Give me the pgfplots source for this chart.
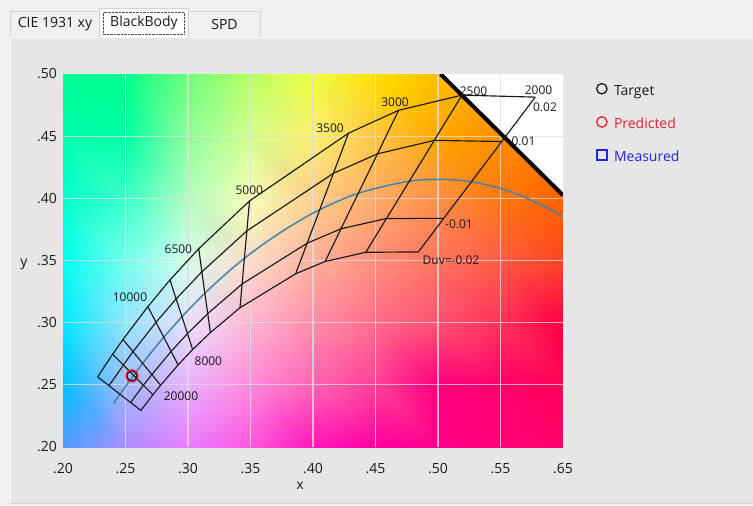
\documentclass[border=0pt]{standalone}
\usepackage{pgfplots}
\pgfplotsset{compat=1.18}
\usepackage{fontspec}
\setmainfont{Open Sans}
\definecolor{winbg}{RGB}{240,240,240}
\definecolor{panelbg}{RGB}{230,230,230}
\definecolor{tabborder}{RGB}{210,210,210}
\definecolor{gridcol}{RGB}{222,222,222}
\definecolor{locuscol}{RGB}{70,130,170}
\definecolor{predred}{RGB}{232,30,50}
\definecolor{measblue}{RGB}{35,35,220}
\definecolor{ink}{RGB}{25,25,25}
\begin{document}
\begin{tikzpicture}
\fill[winbg] (0pt,0pt) rectangle (753pt,-506pt);
\useasboundingbox (0pt,0pt) rectangle (753pt,-506pt);
\fill[panelbg] (10pt,-37pt) rectangle (753pt,-503pt);
\draw[white, line width=1pt] (10.5pt,-503pt) -- (10.5pt,-37.5pt) -- (753pt,-37.5pt);
\draw[tabborder] (10pt,-503.5pt) -- (753pt,-503.5pt);
% tabs
\draw[tabborder, fill=winbg] (10.5pt,-37pt) -- (10.5pt,-11.5pt) -- (99.5pt,-11.5pt) -- (99.5pt,-37pt);
\node[font=\fontsize{14}{16}\selectfont, text=ink] at (55pt,-24pt) {CIE 1931 xy};
\draw[tabborder, fill=white] (99.5pt,-38pt) -- (99.5pt,-8.5pt) -- (188.5pt,-8.5pt) -- (188.5pt,-38pt);
\draw[black!70, densely dotted] (103.5pt,-12.5pt) rectangle (184.5pt,-34.5pt);
\node[font=\fontsize{14}{16}\selectfont, text=ink] at (144pt,-23pt) {BlackBody};
\draw[tabborder, fill=winbg] (188.5pt,-37pt) -- (188.5pt,-11.5pt) -- (260.5pt,-11.5pt) -- (260.5pt,-37pt);
\node[font=\fontsize{14}{16}\selectfont, text=ink] at (224.5pt,-24pt) {SPD};

\begin{axis}[
  at={(63pt,-447pt)}, anchor=south west, scale only axis,
  width=500pt, height=373pt,
  xmin=0.2, xmax=0.6, ymin=0.2, ymax=0.5,
  axis line style={draw=none},
  major tick length=0pt,
  xtick={0.2,0.25,0.3,0.35,0.4,0.45,0.5,0.55,0.6},
  xticklabels={.20,.25,.30,.35,.40,.45,.50,.55,.65},
  ytick={0.2,0.25,0.3,0.35,0.4,0.45,0.5},
  yticklabels={.20,.25,.30,.35,.40,.45,.50},
  ticklabel style={font=\fontsize{14}{16}\selectfont, text=ink},
  xticklabel style={anchor=north, inner sep=0pt, yshift=-16pt},
  yticklabel style={anchor=east, inner sep=0pt, xshift=-6pt},
  xlabel={x}, ylabel={y},
  every axis x label/.style={at={(axis description cs:0.474,0)}, anchor=center, yshift=-39pt, font=\fontsize{14}{16}\selectfont, text=ink},
  every axis y label/.style={at={(axis description cs:0,0.49)}, anchor=center, xshift=-39pt, font=\fontsize{14}{16}\selectfont, text=ink},
  legend style={at={(axis description cs:1.065,0.975)}, anchor=north west, draw=none, fill=none,
    font=\fontsize{14}{16}\selectfont, row sep=18pt, inner sep=0pt,
    nodes={inner sep=0pt, text height=10pt, text depth=3pt}},
  legend cell align=left,
  legend image code/.code={\path (0pt,0pt) (17pt,0pt); \draw[#1] plot coordinates {(5.5pt,3.5pt)};},
]
% background chromaticity colours
\addplot[surf, shader=interp, mesh/color input=explicit, point meta=explicit symbolic, forget plot] table[meta=c] {
x y c
0.20 0.20 rgb255=75,156,255
0.25 0.20 rgb255=170,143,255
0.30 0.20 rgb255=233,125,255
0.35 0.20 rgb255=255,86,224
0.40 0.20 rgb255=255,24,188
0.45 0.20 rgb255=255,0,161
0.50 0.20 rgb255=255,0,139
0.55 0.20 rgb255=255,0,119
0.60 0.20 rgb255=255,0,102

0.20 0.25 rgb255=0,194,255
0.25 0.25 rgb255=160,187,255
0.30 0.25 rgb255=233,177,255
0.35 0.25 rgb255=255,140,218
0.40 0.25 rgb255=255,101,180
0.45 0.25 rgb255=255,65,151
0.50 0.25 rgb255=255,0,127
0.55 0.25 rgb255=255,0,107
0.60 0.25 rgb255=255,0,87

0.20 0.30 rgb255=0,232,255
0.25 0.30 rgb255=145,229,255
0.30 0.30 rgb255=233,225,255
0.35 0.30 rgb255=255,182,211
0.40 0.30 rgb255=255,142,169
0.45 0.30 rgb255=255,110,139
0.50 0.30 rgb255=255,82,113
0.55 0.30 rgb255=255,51,91
0.60 0.30 rgb255=255,0,68

0.20 0.35 rgb255=0,255,238
0.25 0.35 rgb255=114,255,237
0.30 0.35 rgb255=214,255,234
0.35 0.35 rgb255=255,222,201
0.40 0.35 rgb255=255,176,156
0.45 0.35 rgb255=255,143,123
0.50 0.35 rgb255=255,116,95
0.55 0.35 rgb255=255,92,68
0.60 0.35 rgb255=255,69,33

0.20 0.40 rgb255=0,255,204
0.25 0.40 rgb255=59,255,199
0.30 0.40 rgb255=176,255,192
0.35 0.40 rgb255=247,255,183
0.40 0.40 rgb255=255,208,139
0.45 0.40 rgb255=255,171,102
0.50 0.40 rgb255=255,144,68
0.55 0.40 rgb255=255,120,14
0.60 0.40 rgb255=255,100,0

0.20 0.45 rgb255=0,255,175
0.25 0.45 rgb255=0,255,166
0.30 0.45 rgb255=142,255,155
0.35 0.45 rgb255=212,255,141
0.40 0.45 rgb255=255,240,113
0.45 0.45 rgb255=255,198,68
0.50 0.45 rgb255=255,168,0
0.55 0.45 rgb255=255,144,0
0.60 0.45 rgb255=255,125,0

0.20 0.50 rgb255=0,255,147
0.25 0.50 rgb255=0,255,136
0.30 0.50 rgb255=110,255,121
0.35 0.50 rgb255=183,255,99
0.40 0.50 rgb255=238,255,63
0.45 0.50 rgb255=255,225,0
0.50 0.50 rgb255=255,191,0
0.55 0.50 rgb255=255,165,0
0.60 0.50 rgb255=255,140,0
};
% outside the spectral locus
\addplot[fill=white, draw=none, forget plot] coordinates {(0.502,0.5) (0.61,0.5) (0.61,0.3925) (0.6,0.4025)} -- cycle;

% grid lines
\begin{scope}[gridcol, opacity=0.75, line width=1.3pt]
\draw (axis cs:0.25,0.2) -- (axis cs:0.25,0.5);
\draw (axis cs:0.30,0.2) -- (axis cs:0.30,0.5);
\draw (axis cs:0.35,0.2) -- (axis cs:0.35,0.5);
\draw (axis cs:0.40,0.2) -- (axis cs:0.40,0.5);
\draw (axis cs:0.45,0.2) -- (axis cs:0.45,0.5);
\draw (axis cs:0.50,0.2) -- (axis cs:0.50,0.5);
\draw (axis cs:0.55,0.2) -- (axis cs:0.55,0.5);
\draw (axis cs:0.2,0.25) -- (axis cs:0.6,0.25);
\draw (axis cs:0.2,0.30) -- (axis cs:0.6,0.30);
\draw (axis cs:0.2,0.35) -- (axis cs:0.6,0.35);
\draw (axis cs:0.2,0.40) -- (axis cs:0.6,0.40);
\draw (axis cs:0.2,0.45) -- (axis cs:0.6,0.45);
\end{scope}

% spectral locus
\addplot[black, line width=4pt, forget plot] coordinates {(0.502,0.5) (0.6,0.4025)};

% Planckian locus (Duv = 0)
\addplot[locuscol, line width=1.5pt, smooth, forget plot] coordinates {
(0.2404,0.2351) (0.2456,0.2424) (0.2525,0.2523) (0.2565,0.2576) (0.2637,0.2673)
(0.2718,0.2776) (0.2807,0.2883) (0.2952,0.3048) (0.3135,0.3237) (0.3323,0.3410)
(0.3450,0.3516) (0.3607,0.3635) (0.3805,0.3767) (0.4053,0.3909) (0.4366,0.4042)
(0.4765,0.4137) (0.5054,0.4152) (0.5269,0.4133) (0.5496,0.4081) (0.5646,0.4029)
(0.5857,0.3931) (0.6000,0.3855)};

% Duv lines
\addplot[ink, line width=1.15pt, forget plot] coordinates {
(0.2277,0.2564) (0.2397,0.2746) (0.2480,0.2865) (0.2679,0.3129) (0.2856,0.3344) (0.3086,0.3595)
(0.3492,0.3979) (0.4284,0.4524) (0.4685,0.4708) (0.5192,0.4830) (0.5778,0.4814)};
\addplot[ink, line width=1.15pt, forget plot] coordinates {
(0.2368,0.2493) (0.2483,0.2659) (0.2560,0.2767) (0.2744,0.3003) (0.2905,0.3191) (0.3111,0.3409)
(0.3471,0.3738) (0.4163,0.4201) (0.4516,0.4358) (0.4970,0.4466) (0.5510,0.4457)};
\addplot[ink, line width=1.15pt, forget plot] coordinates {
(0.2541,0.2358) (0.2643,0.2497) (0.2711,0.2583) (0.2865,0.2769) (0.2996,0.2912) (0.3158,0.3073)
(0.3433,0.3311) (0.3953,0.3639) (0.4224,0.3755) (0.4588,0.3838) (0.5046,0.3839)};
\addplot[ink, line width=1.15pt, forget plot] coordinates {
(0.2623,0.2294) (0.2719,0.2420) (0.2781,0.2497) (0.2921,0.2660) (0.3037,0.2784) (0.3179,0.2920)
(0.3416,0.3120) (0.3861,0.3393) (0.4097,0.3492) (0.4422,0.3566) (0.4843,0.3569)};

% isotherms (CCT lines)
\addplot[ink, line width=1.15pt, forget plot] coordinates {(0.2277,0.2564) (0.2368,0.2493) (0.2456,0.2424) (0.2541,0.2358) (0.2623,0.2294)};
\addplot[ink, line width=1.15pt, forget plot] coordinates {(0.2397,0.2746) (0.2483,0.2659) (0.2565,0.2576) (0.2643,0.2497) (0.2719,0.2420)};
\addplot[ink, line width=1.15pt, forget plot] coordinates {(0.2480,0.2865) (0.2560,0.2767) (0.2637,0.2673) (0.2711,0.2583) (0.2781,0.2497)};
\addplot[ink, line width=1.15pt, forget plot] coordinates {(0.2679,0.3129) (0.2744,0.3003) (0.2806,0.2883) (0.2865,0.2769) (0.2921,0.2660)};
\addplot[ink, line width=1.15pt, forget plot] coordinates {(0.2856,0.3344) (0.2905,0.3191) (0.2952,0.3048) (0.2996,0.2912) (0.3037,0.2784)};
\addplot[ink, line width=1.15pt, forget plot] coordinates {(0.3086,0.3595) (0.3111,0.3409) (0.3135,0.3235) (0.3158,0.3073) (0.3179,0.2920)};
\addplot[ink, line width=1.15pt, forget plot] coordinates {(0.3492,0.3979) (0.3471,0.3738) (0.3451,0.3516) (0.3433,0.3311) (0.3416,0.3120)};
\addplot[ink, line width=1.15pt, forget plot] coordinates {(0.4284,0.4524) (0.4163,0.4201) (0.4053,0.3907) (0.3953,0.3639) (0.3861,0.3393)};
\addplot[ink, line width=1.15pt, forget plot] coordinates {(0.4685,0.4708) (0.4516,0.4358) (0.4363,0.4042) (0.4224,0.3755) (0.4097,0.3492)};
\addplot[ink, line width=1.15pt, forget plot] coordinates {(0.5192,0.4830) (0.4970,0.4466) (0.4770,0.4137) (0.4588,0.3838) (0.4422,0.3566)};
\addplot[ink, line width=1.15pt, forget plot] coordinates {(0.5778,0.4814) (0.5510,0.4457) (0.5267,0.4133) (0.5046,0.3839) (0.4843,0.3569)};

% labels
\begin{scope}[every node/.style={font=\fontsize{12}{14}\selectfont, text=ink, inner sep=0pt}]
\node at (axis cs:0.5804,0.4872) {2000};
\node at (axis cs:0.5284,0.4864) {2500};
\node at (axis cs:0.4656,0.4773) {3000};
\node at (axis cs:0.4136,0.4564) {3500};
\node at (axis cs:0.3490,0.4062) {5000};
\node at (axis cs:0.2923,0.3590) {6500};
\node at (axis cs:0.2536,0.3201) {10000};
\node at (axis cs:0.3163,0.2692) {8000};
\node at (axis cs:0.2944,0.2410) {20000};
\node at (axis cs:0.5856,0.4735) {0.02};
\node at (axis cs:0.5684,0.4462) {0.01};
\node at (axis cs:0.5168,0.3794) {-0.01};
\node at (axis cs:0.5104,0.3499) {Duv=-0.02};
\end{scope}

% target / predicted
\addplot[only marks, mark=o, mark size=5pt, ink, line width=1.2pt, forget plot] coordinates {(0.2552,0.2572)};
\addplot[only marks, mark=o, mark size=6pt, predred, line width=1.3pt, forget plot] coordinates {(0.2552,0.2572)};

\addlegendimage{only marks, mark=o, mark size=5.2pt, ink, line width=1.3pt}
\addlegendentry{\textcolor{ink}{Target}}
\addlegendimage{only marks, mark=o, mark size=5.2pt, predred, line width=1.3pt}
\addlegendentry{\textcolor{predred}{Predicted}}
\addlegendimage{only marks, mark=square, mark size=5pt, measblue, line width=1.3pt}
\addlegendentry{\textcolor{measblue}{Measured}}
\end{axis}
\end{tikzpicture}
\end{document}
